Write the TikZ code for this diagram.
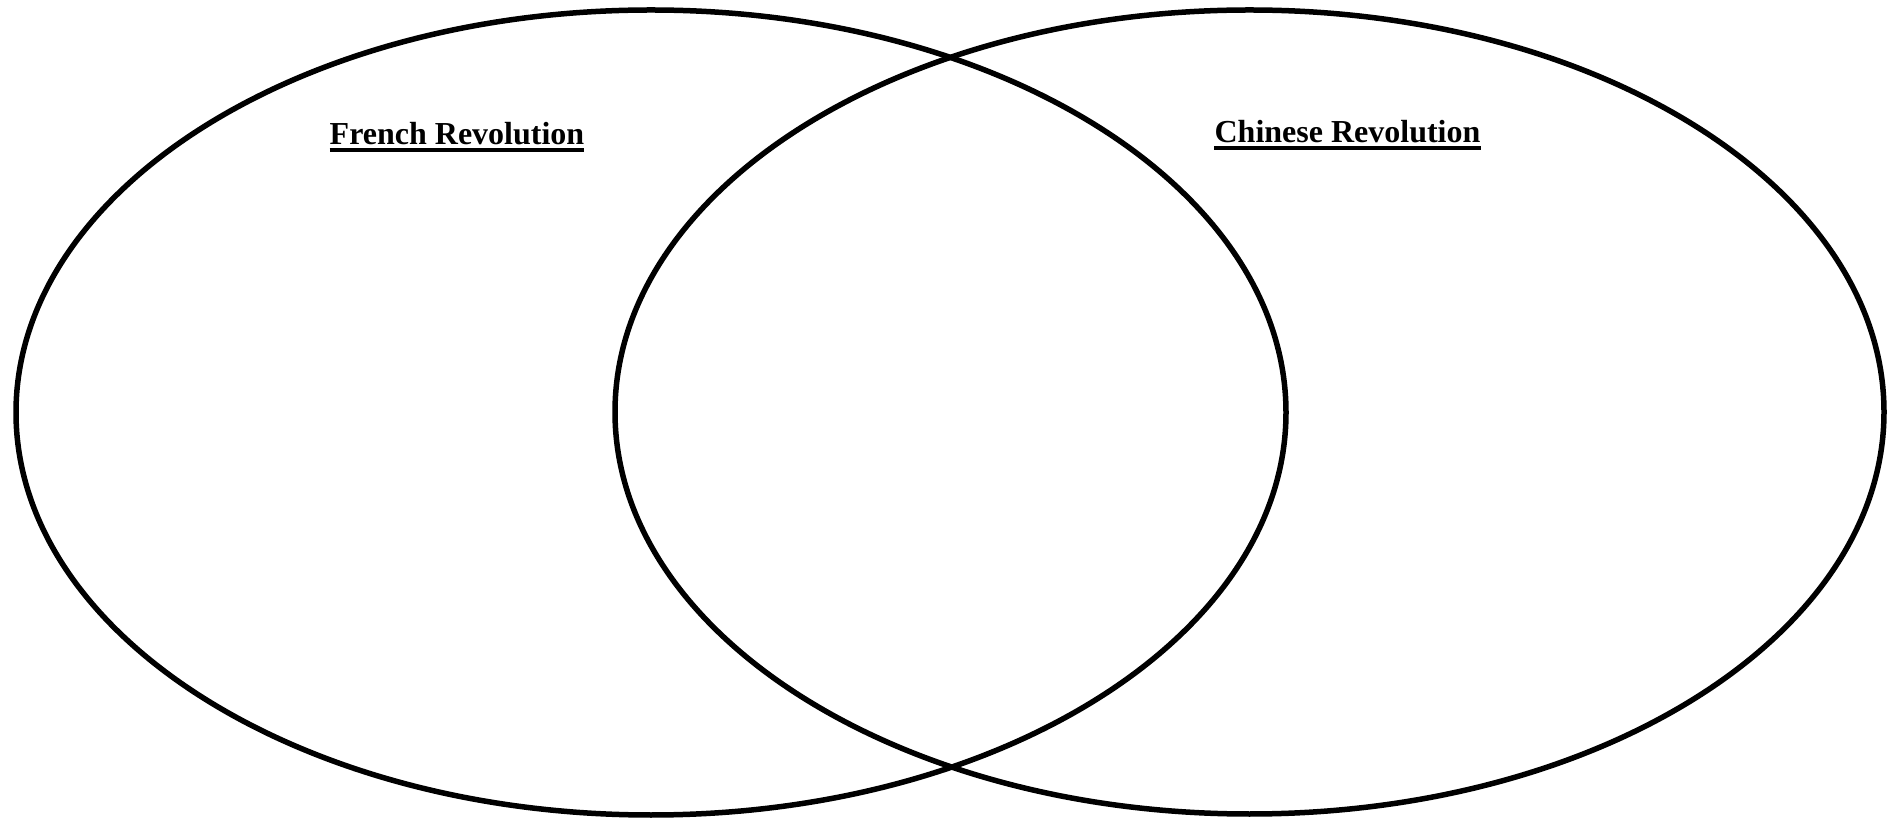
\documentclass[tikz,border=0pt]{standalone}
\usepackage{fontspec}
\setmainfont{Liberation Serif}
\begin{document}
\begin{tikzpicture}[x=1pt,y=1pt,
  ring/.style={draw=black,line width=5.5pt},
  title/.style={inner sep=0pt,font=\fontsize{32}{38}\selectfont\bfseries},
  uline/.style={line width=4pt}]
\useasboundingbox (0,0) rectangle (1893,817);
\draw[ring] (651,404.5) ellipse [x radius=635, y radius=402.5];
\draw[ring] (1249.5,405) ellipse [x radius=634.5, y radius=402];
\node[title,anchor=base] (fr) at (457,672) {French Revolution};
\node[title,anchor=base] (cn) at (1347.5,674) {Chinese Revolution};
\draw[uline] ([yshift=-5pt]fr.base west) -- ([yshift=-5pt]fr.base east);
\draw[uline] ([yshift=-5pt]cn.base west) -- ([yshift=-5pt]cn.base east);
\end{tikzpicture}
\end{document}
